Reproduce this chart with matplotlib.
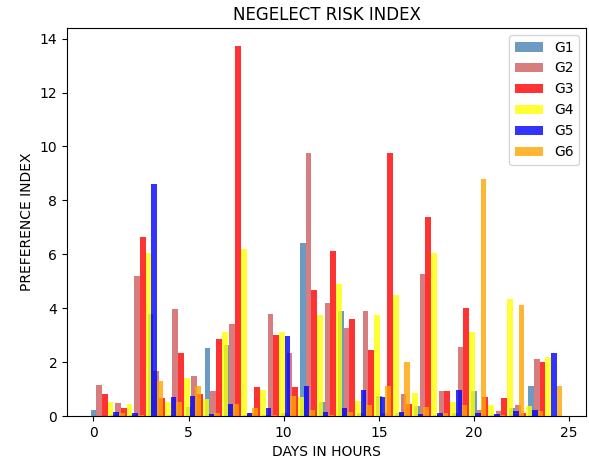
import matplotlib
matplotlib.use("Agg")
import matplotlib.pyplot as plt
import numpy as np

hours = list(range(24))
labels = ["G1", "G2", "G3", "G4", "G5", "G6"]
g1 = [0.22, 0.05, 0.05, 3.8, 0.05, 0.35, 2.51, 2.64, 0.05, 0.05, 0.1, 6.41, 0.53, 3.91, 0.1, 0.75, 0.1, 0.37, 0.05, 0.1, 0.93, 0.05, 0.31, 1.11]
g2 = [1.15, 0.5, 5.2, 1.67, 3.96, 1.5, 0.93, 3.42, 0.12, 3.79, 2.33, 9.75, 4.18, 3.25, 3.91, 0.1, 0.8, 5.27, 0.92, 2.55, 0.22, 0.19, 0.41, 2.12]
g3 = [0.8, 0.31, 6.65, 0.68, 2.33, 0.8, 2.86, 13.71, 1.06, 3.02, 1.06, 4.68, 6.13, 3.6, 2.45, 9.75, 0.45, 7.38, 0.92, 4.0, 0.72, 0.66, 0.12, 2.02]
g4 = [0.53, 0.45, 6.05, 0.53, 1.42, 0.63, 3.13, 6.2, 0.96, 3.12, 0.72, 3.73, 4.89, 0.56, 3.73, 4.49, 0.87, 6.04, 0.53, 3.13, 0.41, 4.34, 0.37, 2.18]
g5 = [0.14, 0.1, 8.6, 0.69, 0.75, 0.07, 0.45, 0.1, 0.28, 2.97, 1.11, 0.16, 0.3, 0.97, 0.69, 0.16, 0.06, 0.1, 0.97, 0.1, 0.07, 0.19, 0.22, 2.33]
g6 = [0.1, 0.05, 1.3, 0.53, 1.11, 0.1, 0.45, 0.28, 0.05, 0.75, 0.22, 0.05, 0.16, 0.41, 1.11, 2.02, 0.32, 0.1, 0.41, 8.8, 0.05, 4.12, 0.19, 1.11]
series = [g1, g2, g3, g4, g5, g6]
colors = ["steelblue", "indianred", "red", "yellow", "blue", "orange"]

fig = plt.figure(figsize=(5.89, 4.63), dpi=100)
ax = fig.add_axes([0.1138, 0.1015, 0.881, 0.838])
width = 0.3
x = np.array(hours, dtype=float)
for i, (vals, lab, col) in enumerate(zip(series, labels, colors)):
    ax.bar(x + i * width, vals, width, color=col, alpha=0.8, label=lab)

ax.set_title("NEGELECT RISK INDEX")
ax.set_xlabel("DAYS IN HOURS")
ax.set_ylabel("PREFERENCE INDEX")
ax.legend(loc="upper right")
fig.savefig("out.png", dpi=100)
